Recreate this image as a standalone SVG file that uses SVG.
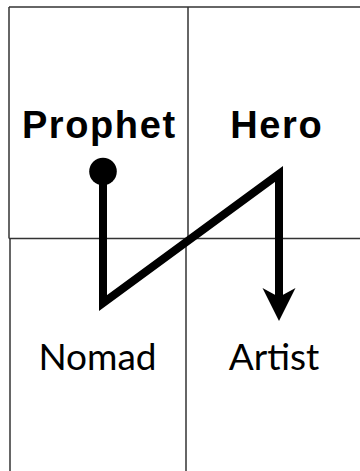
<svg xmlns="http://www.w3.org/2000/svg" width="360" height="471" viewBox="0 0 360 471">
<style>
.grid{stroke:#333;stroke-width:1.5;fill:none}
.bold{font-family:"Liberation Sans",Arial,sans-serif;font-weight:bold;font-size:38px;letter-spacing:1.6px;fill:#000;text-anchor:middle}
.reg{font-family:Lato,"Liberation Sans",sans-serif;font-size:37px;fill:#000;text-anchor:middle}
.conn{stroke:#000;stroke-width:8;fill:none;stroke-linejoin:miter;stroke-miterlimit:10}
</style>
<defs>
<marker id="dot" markerUnits="userSpaceOnUse" markerWidth="30" markerHeight="30" viewBox="-15 -15 30 30" refX="0" refY="0" orient="auto">
<circle cx="0" cy="0" r="13.8" fill="#000"/>
</marker>
<marker id="arrow" markerUnits="userSpaceOnUse" markerWidth="40" markerHeight="40" viewBox="-12 -20 40 40" refX="0" refY="0" orient="auto">
<path d="M0,0 L-9,-16.5 L24,0 L-9,16.5 Z" fill="#000"/>
</marker>
</defs>
<g id="grid">
<line class="grid" x1="9" y1="7" x2="360" y2="7"/>
<line class="grid" x1="9" y1="7" x2="9" y2="238.5"/>
<line class="grid" x1="10" y1="238.5" x2="10" y2="471"/>
<line class="grid" x1="188" y1="7" x2="188" y2="238.5"/>
<line class="grid" x1="186" y1="238.5" x2="186" y2="471"/>
<line class="grid" x1="9" y1="238.5" x2="360" y2="238.5"/>
</g>
<g id="prophet"><text class="bold" x="99.3" y="138">Prophet</text></g>
<g id="hero"><text class="bold" x="276.8" y="138">Hero</text></g>
<g id="nomad"><text class="reg" x="97.5" y="370">Nomad</text></g>
<g id="artist"><text class="reg" x="274" y="370">Artist</text></g>
<g id="connectors">
<path class="conn" d="M103,171.5 V303 L279,174 V297" marker-start="url(#dot)" marker-end="url(#arrow)"/>
</g>
</svg>
